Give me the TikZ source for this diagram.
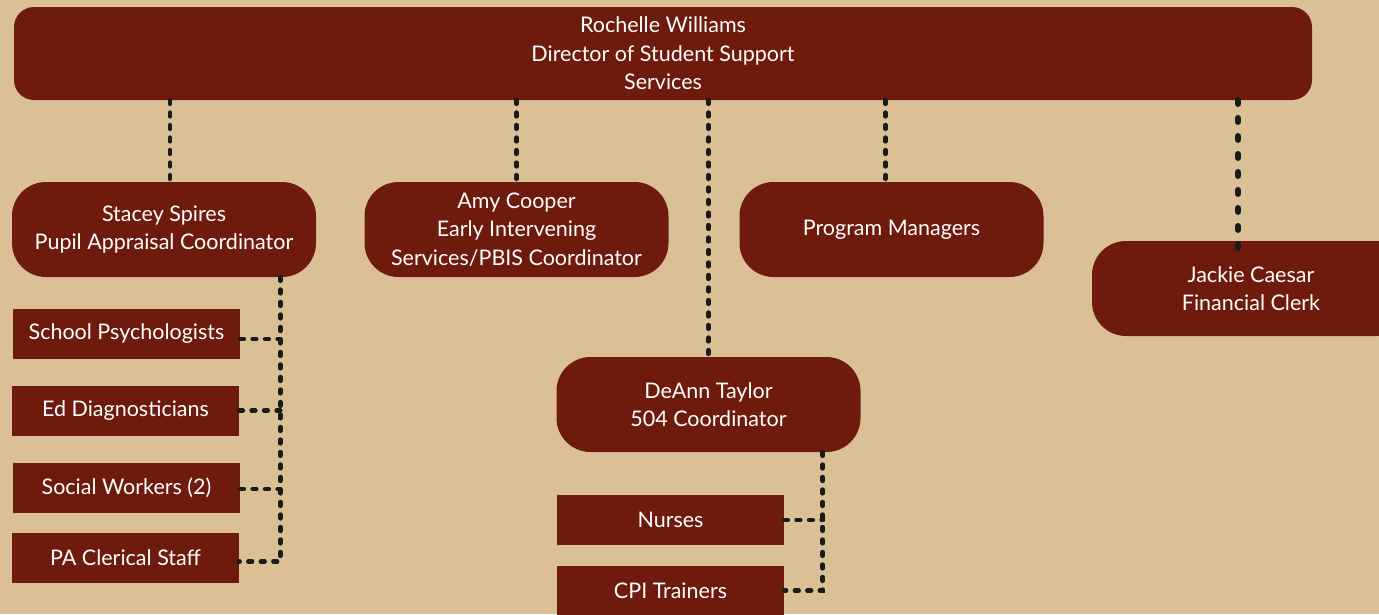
\documentclass[tikz,border=0pt]{standalone}
\usepackage{fontspec}
\setmainfont{Lato}

\definecolor{sand}{HTML}{DBC096}
\definecolor{maroon}{HTML}{6E1A0D}
\definecolor{ink}{HTML}{1A1A1A}

\tikzset{
    boxtext/.style={text=white, align=center, inner sep=0pt, font=\fontsize{21.5}{28.5}\selectfont},
    rolebox/.style={boxtext, fill=maroon, rounded corners=34pt, minimum width=304pt, minimum height=95pt},
    staffbox/.style={boxtext, fill=maroon, minimum width=227pt, minimum height=50pt},
    dotlink/.style={draw=ink, line width=4.8pt, line cap=round, dash pattern=on 3.5pt off 9pt},
}

\begin{document}
\begin{tikzpicture}[x=1pt, y=-1pt]

    % Background
    \fill[sand] (0,0) rectangle (1379,614);
    \useasboundingbox (0,0) rectangle (1379,614);

    % Director
    \node[rolebox, rounded corners=20pt, minimum width=1298pt, minimum height=93pt] (top) at (663,53.5)
        {Rochelle Williams\\Director of Student Support\\Services};

    % Second row
    \node[rolebox] (stacey) at (164,229.5) {Stacey Spires\\Pupil Appraisal Coordinator};
    \node[rolebox] (amy) at (516.5,229.5) {Amy Cooper\\Early Intervening\\Services/PBIS Coordinator};
    \node[rolebox] (progmgr) at (891.5,229.5) {Program Managers};
    \node[rolebox, minimum width=318pt] (jackie) at (1251,288.5) {Jackie Caesar\\Financial Clerk};
    \node[rolebox] (deann) at (708.5,404.5) {DeAnn Taylor\\504 Coordinator};

    % Staff under Stacey
    \foreach \nm/\x/\y/\txt in {psych/126.5/334/School Psychologists, diag/125.5/410.5/Ed Diagnosticians,
        social/126.5/488/Social Workers (2), clerical/125.5/557.5/PA Clerical Staff} {
        \node[staffbox] (\nm) at (\x,\y) {\txt};
    }

    % Staff under DeAnn
    \foreach \nm/\y/\txt in {nurses/520/Nurses, cpi/590.5/CPI Trainers} {
        \node[staffbox] (\nm) at (670.5,\y) {\txt};
    }

    % Links from the director
    \draw[dotlink] ([xshift=6pt]top.south -| stacey.north) -- ([xshift=6pt]stacey.north);
    \draw[dotlink] (top.south -| amy.north) -- (amy.north);
    \draw[dotlink] (top.south -| deann.north) -- (deann.north);
    \draw[dotlink] ([xshift=-6pt]top.south -| progmgr.north) -- ([xshift=-6pt]progmgr.north);
    \draw[dotlink, line width=6.5pt, dash pattern=on 3.5pt off 14.5pt]
        ([xshift=-13pt]top.south -| jackie.north) -- ([xshift=-13pt, yshift=-9pt]jackie.north);

    % Stacey's staff
    \coordinate (sbus) at ([xshift=-36pt]stacey.south east);
    \draw[dotlink] (sbus) |- ([yshift=-4pt]clerical.east);
    \foreach \nm/\dy in {psych/-5, diag/0, social/-1} {
        \draw[dotlink] ([yshift=\dy pt]\nm.east) -- ([yshift=\dy pt]\nm.east -| sbus);
    }

    % DeAnn's staff
    \coordinate (dbus) at ([xshift=-38pt]deann.south east);
    \draw[dotlink] (dbus) |- (cpi.east);
    \draw[dotlink] (nurses.east) -- (nurses.east -| dbus);

\end{tikzpicture}
\end{document}
